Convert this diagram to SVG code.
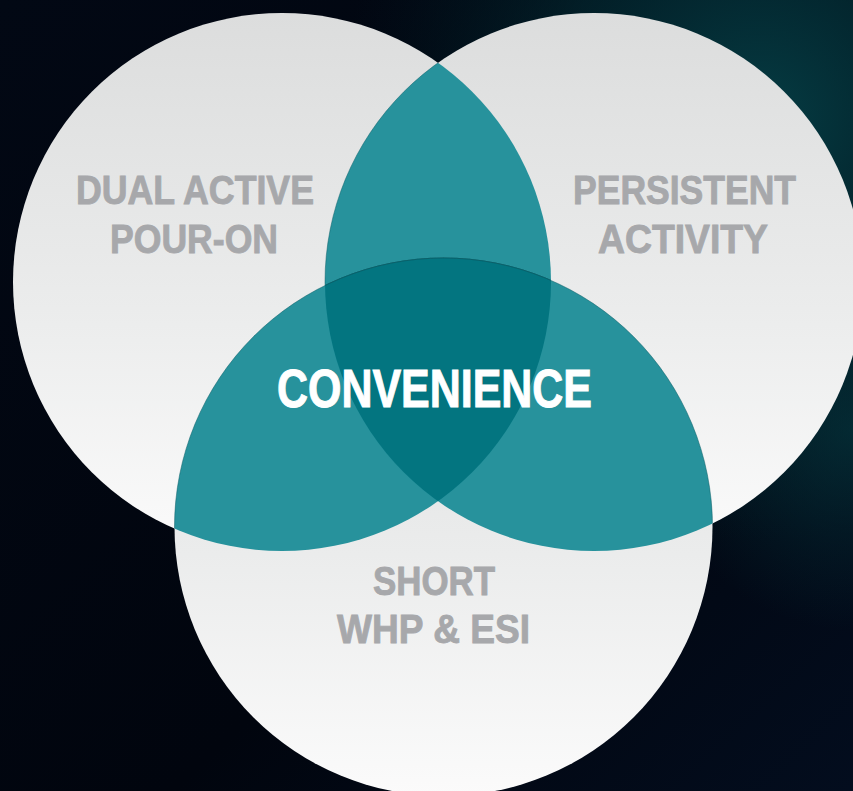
<svg xmlns="http://www.w3.org/2000/svg" width="853" height="791" viewBox="0 0 853 791">
  <defs>
    <linearGradient id="bgLin" x1="0" y1="0" x2="1" y2="1">
      <stop offset="0" stop-color="#020814"/>
      <stop offset="0.6" stop-color="#01050e"/>
      <stop offset="1" stop-color="#030d1e"/>
    </linearGradient>
    <radialGradient id="bgGlow" cx="760" cy="120" r="420" gradientUnits="userSpaceOnUse">
      <stop offset="0" stop-color="#06434a" stop-opacity="0.9"/>
      <stop offset="0.5" stop-color="#03323a" stop-opacity="0.55"/>
      <stop offset="1" stop-color="#02202a" stop-opacity="0"/>
    </radialGradient>
    <radialGradient id="bgGlow2" cx="853" cy="430" r="200" gradientUnits="userSpaceOnUse">
      <stop offset="0" stop-color="#05343c" stop-opacity="0.7"/>
      <stop offset="1" stop-color="#05343c" stop-opacity="0"/>
    </radialGradient>
    <linearGradient id="circFill" x1="0" y1="0" x2="0" y2="1">
      <stop offset="0" stop-color="#dcdddd"/>
      <stop offset="0.55" stop-color="#ebecec"/>
      <stop offset="1" stop-color="#fbfbfb"/>
    </linearGradient>
    <clipPath id="clipA"><circle cx="282" cy="282" r="269"/></clipPath>
    <clipPath id="clipB"><circle cx="594" cy="282" r="269"/></clipPath>
    <clipPath id="clipC"><circle cx="443.5" cy="527" r="269"/></clipPath>
    <style>
      .circle { fill: url(#circFill); }
      .pair { fill: #27929c; stroke: #0d5f68; stroke-opacity: 0.55; stroke-width: 0.9; }
      .triple { fill: #037580; stroke: #0b4d55; stroke-opacity: 0.55; stroke-width: 0.9; }
      .lbl { font-family: "Liberation Sans", Arial, sans-serif; font-weight: bold; fill: #a7a8ab; stroke: #a7a8ab; stroke-width: 0.9; font-size: 41px; }
      .center { font-family: "Liberation Sans", Arial, sans-serif; font-weight: bold; fill: #ffffff; stroke: #ffffff; stroke-width: 1; font-size: 53px; }
    </style>
  </defs>

  <rect x="0" y="0" width="853" height="791" fill="url(#bgLin)"/>
  <rect x="0" y="0" width="853" height="791" fill="url(#bgGlow)"/>
  <rect x="0" y="0" width="853" height="791" fill="url(#bgGlow2)"/>

  <g id="circle-dual-active">
    <circle class="circle" cx="282" cy="282" r="269"/>
  </g>
  <g id="circle-persistent-activity">
    <circle class="circle" cx="594" cy="282" r="269"/>
  </g>
  <g id="circle-short-whp">
    <circle class="circle" cx="443.5" cy="527" r="269"/>
  </g>

  <g id="overlaps">
    <g clip-path="url(#clipA)">
      <circle class="pair" cx="594" cy="282" r="269"/>
    </g>
    <g clip-path="url(#clipA)">
      <circle class="pair" cx="443.5" cy="527" r="269"/>
    </g>
    <g clip-path="url(#clipB)">
      <circle class="pair" cx="443.5" cy="527" r="269"/>
    </g>
    <g clip-path="url(#clipA)">
      <g clip-path="url(#clipB)">
        <circle class="triple" cx="443.5" cy="527" r="269"/>
      </g>
    </g>
  </g>

  <g id="label-dual-active">
    <text class="lbl" x="76" y="204" textLength="238" lengthAdjust="spacingAndGlyphs">DUAL ACTIVE</text>
    <text class="lbl" x="110" y="253" textLength="168" lengthAdjust="spacingAndGlyphs">POUR-ON</text>
  </g>
  <g id="label-persistent-activity">
    <text class="lbl" x="573" y="204" textLength="223" lengthAdjust="spacingAndGlyphs">PERSISTENT</text>
    <text class="lbl" x="598" y="253" textLength="170" lengthAdjust="spacingAndGlyphs">ACTIVITY</text>
  </g>
  <g id="label-short-whp">
    <text class="lbl" x="373" y="595" textLength="122" lengthAdjust="spacingAndGlyphs">SHORT</text>
    <text class="lbl" x="337" y="643" textLength="193" lengthAdjust="spacingAndGlyphs">WHP &amp; ESI</text>
  </g>
  <g id="label-convenience">
    <text class="center" x="277" y="407" textLength="315" lengthAdjust="spacingAndGlyphs">CONVENIENCE</text>
  </g>
</svg>
